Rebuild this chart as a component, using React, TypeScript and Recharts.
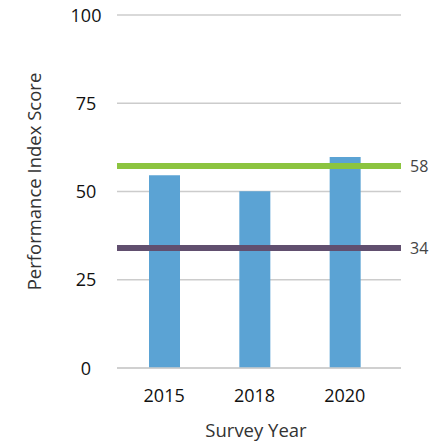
import React from 'react';
import { BarChart, Bar, XAxis, YAxis, CartesianGrid, ReferenceLine } from 'recharts';

const years = ['2015', '2018', '2020'];
const scores = [54.6, 50.1, 59.8];
const yTicks = [0, 25, 50, 75, 100];
const refHigh = 57.2;
const refHighLabel = '58';
const refLow = 34;
const refLowLabel = '34';

const data = years.map((y, i) => ({ year: y, score: scores[i] }));
const FONT = '"Open Sans", Lato, sans-serif';

const YTick = (props: any) => {
  const { y, payload } = props;
  return (
    <text x={86} y={y} dy={6.5} textAnchor="middle" fontSize={18} fontFamily={FONT} fill="#111">
      {payload.value}
    </text>
  );
};

const XTick = (props: any) => {
  const { x, y, payload } = props;
  return (
    <text x={x} y={y} dy={26} textAnchor="middle" fontSize={18} fontFamily={FONT} fill="#111">
      {payload.value}
    </text>
  );
};

export default function App() {
  return (
    <div style={{ position: 'absolute', left: 0, top: 0, width: 441, height: 443, background: '#fff' }}>
      <BarChart width={441} height={443} data={data} margin={{ top: 15, right: 40, left: 0, bottom: 0 }}>
        <CartesianGrid vertical={false} stroke="#cccccc" strokeWidth={1.5} />
        <XAxis
          dataKey="year"
          height={75}
          axisLine={{ stroke: '#cccccc', strokeWidth: 1.5 }}
          tickLine={false}
          tick={<XTick />}
          padding={{ left: 2, right: 11 }}
          label={{ value: 'Survey Year', position: 'insideBottom', offset: 6, dx: -3, fontSize: 18.5, fontFamily: FONT, fill: '#333' }}
        />
        <YAxis
          width={117}
          domain={[0, 100]}
          ticks={yTicks}
          axisLine={false}
          tickLine={false}
          tick={<YTick />}
          label={{ value: 'Performance Index Score', angle: -90, position: 'insideLeft', offset: 34, dy: -10, fontSize: 18.5, fontFamily: FONT, fill: '#333', style: { textAnchor: 'middle' } }}
        />
        <Bar dataKey="score" fill="#5BA3D4" barSize={31} isAnimationActive={false} />
        <ReferenceLine y={refHigh} stroke="#8CC43F" strokeWidth={6} label={{ value: refHighLabel, position: 'right', offset: 9, fontSize: 16, fontFamily: FONT, fill: '#444' }} />
        <ReferenceLine y={refLow} stroke="#614F6F" strokeWidth={6} label={{ value: refLowLabel, position: 'right', offset: 9, fontSize: 16, fontFamily: FONT, fill: '#444' }} />
      </BarChart>
    </div>
  );
}
